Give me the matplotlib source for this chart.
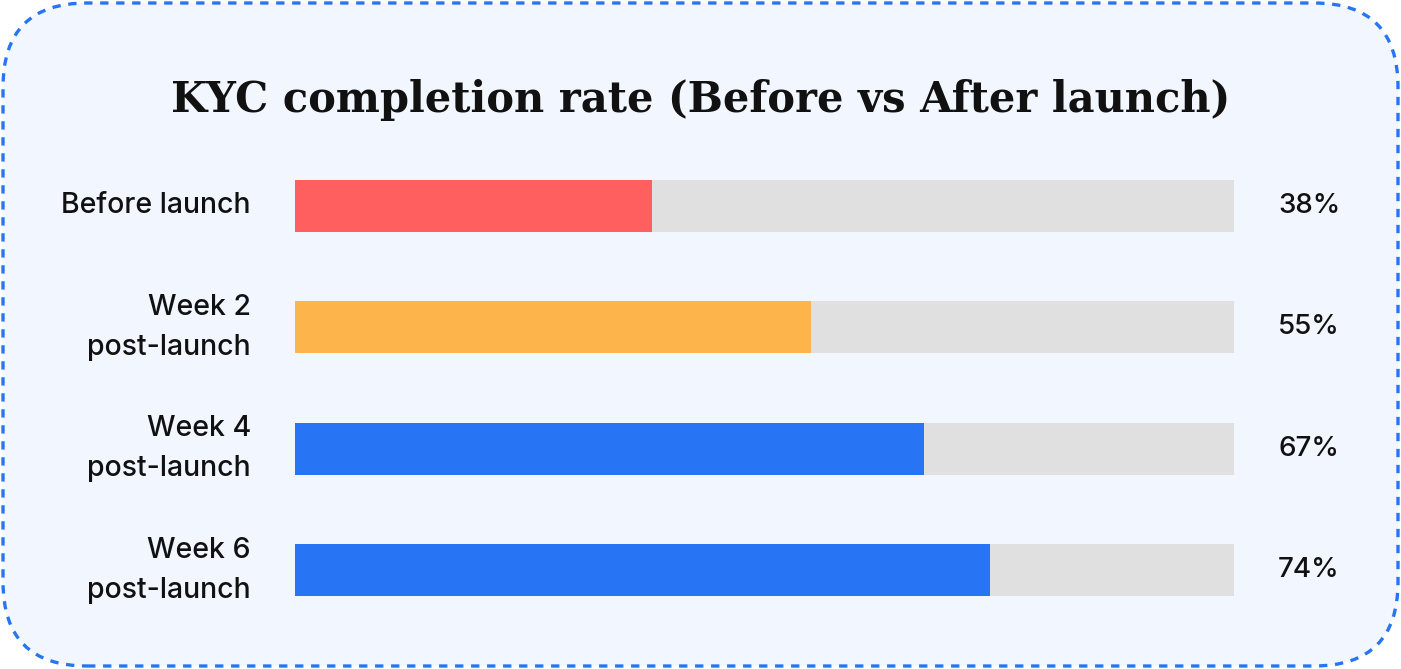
import matplotlib
matplotlib.use("Agg")
import matplotlib.pyplot as plt
from matplotlib.patches import FancyBboxPatch

# data
stages = ["Before launch", "Week 2\npost-launch", "Week 4\npost-launch", "Week 6\npost-launch"]
rates = [38, 55, 67, 74]
bar_colors = ["#FF5F5F", "#FDB44B", "#2775F4", "#2775F4"]
track_max = 100

fig = plt.figure(figsize=(14.01, 6.69), dpi=100)
fig.patch.set_facecolor("white")

# rounded dashed card behind everything
card = FancyBboxPatch((3 / 1401, 3 / 669), 1395 / 1401, 663 / 669,
                      boxstyle="round,pad=0,rounding_size=0.06",
                      transform=fig.transFigure, facecolor="#F2F7FF",
                      edgecolor="#2775F4", linewidth=2.4, linestyle=(0, (2.5, 2.3)),
                      mutation_aspect=1401 / 669, zorder=0)
fig.patches.append(card)

ax = fig.add_axes([295 / 1401, 1 - 631 / 669, 939 / 1401, 486 / 669])
ax.set_zorder(2)
ax.set_facecolor("none")

ypos = list(range(len(stages)))
ax.barh(ypos, [track_max] * len(stages), height=0.43, color="#E0E0E0", zorder=1)
ax.barh(ypos, rates, height=0.43, color=bar_colors, zorder=2)

ax.set_xlim(0, track_max)
ax.set_ylim(len(stages) - 0.5, -0.5)
ax.set_xticks([])
ax.set_yticks([])
for s in ax.spines.values():
    s.set_visible(False)

for y, name, r in zip(ypos, stages, rates):
    ax.text(-0.047, y, name, transform=ax.get_yaxis_transform(), ha="right", va="center",
            multialignment="right", fontsize=20.5, fontfamily="Inter", fontweight="medium",
            color="#111111", linespacing=1.6)
    ax.text(1.047, y, f"{r}%", transform=ax.get_yaxis_transform(), ha="left", va="center",
            fontsize=20, fontfamily="Inter", fontweight="medium", color="#111111")

fig.text(0.5, 1 - 100 / 669, "KYC completion rate (Before vs After launch)",
         ha="center", va="center", fontsize=30, fontweight="heavy",
         fontfamily="DejaVu Serif", color="#111111")

fig.savefig("out.png", dpi=100, facecolor=fig.get_facecolor())
